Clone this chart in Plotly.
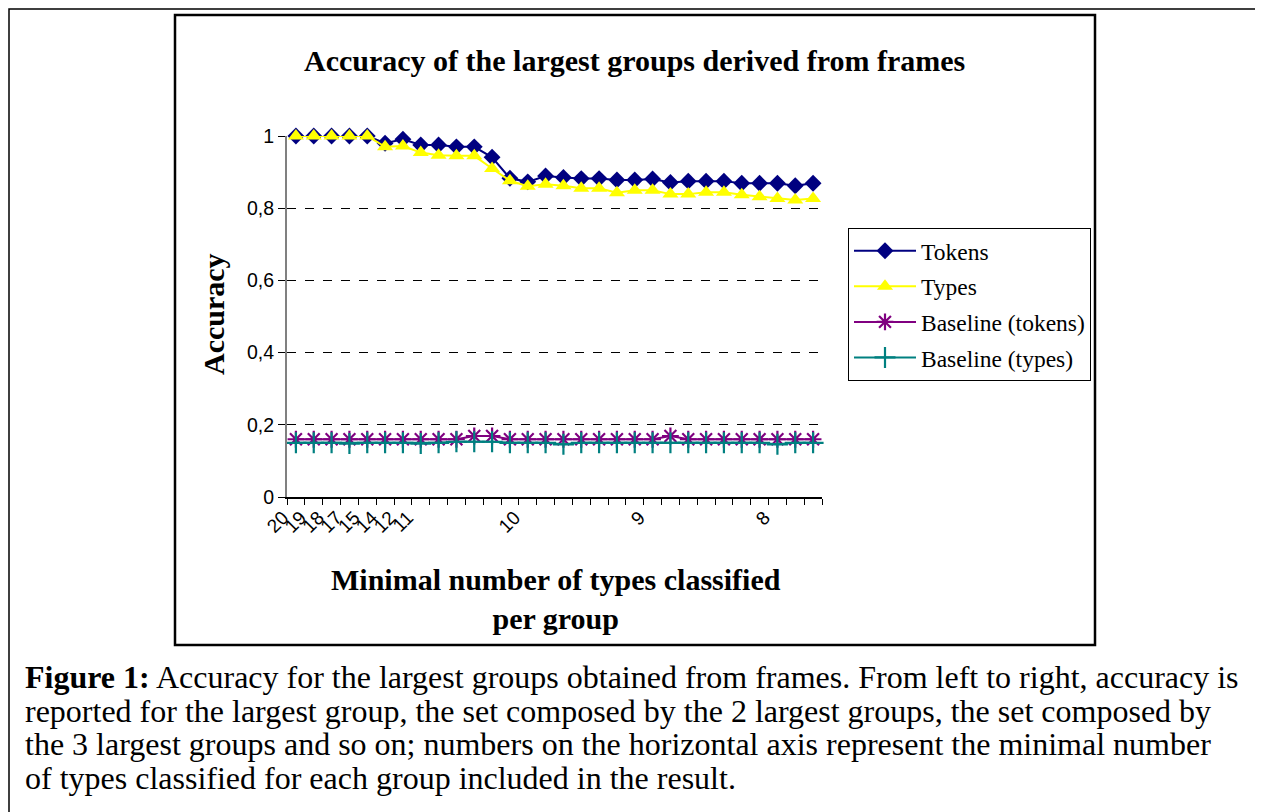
import plotly.graph_objects as go

# ---------------- data ----------------
x_labels = ["20", "19", "18", "17", "15", "14", "12", "11", "", "", "", "", "", "10",
            "", "", "", "", "", "", "9", "", "", "", "", "", "", "8", "", ""]

tokens = [1.0, 1.0, 1.0, 1.0, 1.0, 0.980, 0.991, 0.975, 0.975, 0.970, 0.970, 0.941,
          0.883, 0.873, 0.889, 0.885, 0.882, 0.882, 0.878, 0.878, 0.881, 0.871,
          0.875, 0.875, 0.875, 0.869, 0.869, 0.869, 0.862, 0.869]

types = [1.0, 1.0, 1.0, 1.0, 1.0, 0.970, 0.972, 0.954, 0.947, 0.945, 0.945, 0.910,
         0.876, 0.861, 0.866, 0.862, 0.855, 0.855, 0.843, 0.850, 0.850, 0.839,
         0.839, 0.844, 0.844, 0.837, 0.832, 0.827, 0.823, 0.827]

baseline_tokens = [0.160, 0.160, 0.160, 0.160, 0.160, 0.160, 0.160, 0.160, 0.160, 0.160,
                   0.169, 0.169, 0.160, 0.160, 0.160, 0.160, 0.160, 0.160, 0.160, 0.160,
                   0.160, 0.169, 0.160, 0.160, 0.160, 0.160, 0.160, 0.160, 0.160, 0.160]

baseline_types = [0.150, 0.150, 0.150, 0.148, 0.150, 0.150, 0.150, 0.148, 0.150, 0.153,
                  0.153, 0.153, 0.150, 0.150, 0.150, 0.146, 0.150, 0.150, 0.150, 0.150,
                  0.150, 0.150, 0.150, 0.150, 0.150, 0.150, 0.150, 0.146, 0.150, 0.150]

y_ticks = [0, 0.2, 0.4, 0.6, 0.8, 1.0]
y_ticktext = ["0", "0,2", "0,4", "0,6", "0,8", "1"]

series = [
    ("Tokens", tokens, "#000080", "diamond", 13),
    ("Types", types, "#FFFF00", "triangle-up", 14),
    ("Baseline (tokens)", baseline_tokens, "#800080", "asterisk-open", 14),
    ("Baseline (types)", baseline_types, "#008080", "cross-thin-open", 15),
]

# ---------------- layout geometry (reference pixels) ----------------
W, H = 1263, 812
OFF = 8                                # page body margin of the html page
PL, PR, PT, PB = 287, 822, 136, 497    # plot area in the reference picture
pw, ph = PR - PL, PB - PT


def px(x):
    return (x - PL) / pw


def py(y):
    return (PB - y) / ph


idx = list(range(len(x_labels)))

fig = go.Figure()
for i, (name, vals, color, sym, size) in enumerate(series):
    open_sym = sym.endswith("-open")
    fig.add_trace(go.Scatter(
        x=idx, y=vals, name=name, mode="lines+markers",
        legendgroup=f"g{i}",
        line=dict(color=color, width=2),
        marker=dict(symbol=sym, size=size, color=color,
                    line=dict(color=color, width=2.2 if open_sym else 0)),
        cliponaxis=False,
    ))

serif = "Liberation Serif, Times New Roman, serif"
sans = "Liberation Sans, Arial, sans-serif"

label_vals = [i for i, t in zip(idx, x_labels) if t]
label_text = [t for t in x_labels if t]

fig.update_layout(
    width=W, height=H, autosize=False,
    margin=dict(l=PL - OFF, r=W - (PR - OFF), t=PT - OFF, b=H - (PB - OFF), pad=0),
    paper_bgcolor="white", plot_bgcolor="white",
    showlegend=True,
    legend=dict(
        x=px(848), y=py(228), xanchor="left", yanchor="top",
        bordercolor="black", borderwidth=1, bgcolor="white",
        font=dict(family=serif, size=23.5, color="black"),
        tracegroupgap=2, itemwidth=62,
    ),
    xaxis=dict(
        range=[-0.5, len(x_labels) - 0.5],
        tickmode="array", tickvals=label_vals, ticktext=label_text,
        tickangle=-45, ticks="", showgrid=False, zeroline=False,
        showline=True, linecolor="black", linewidth=2,
        tickfont=dict(family=sans, size=19, color="black"),
        ticklabelshift=-13,
        minor=dict(tickmode="array",
                   tickvals=[i - 0.5 for i in range(len(x_labels) + 1)],
                   ticks="outside", ticklen=6, tickcolor="black", tickwidth=1,
                   showgrid=False),
    ),
    yaxis=dict(
        range=[0, 1], tickmode="array", tickvals=y_ticks, ticktext=y_ticktext,
        ticks="outside", ticklen=7, tickcolor="black", tickwidth=1,
        showline=True, linecolor="#808080", linewidth=2,
        showgrid=True, gridcolor="black", gridwidth=1, griddash="dash",
        zeroline=False,
        tickfont=dict(family=sans, size=19.5, color="black"),
    ),
)

# frames (outer page frame sits just inside the drawable area)
fig.add_shape(type="rect", xref="paper", yref="paper",
              x0=px(OFF + 1), x1=px(1259), y0=py(830), y1=py(OFF + 1),
              line=dict(color="black", width=1.5), layer="below")
fig.add_shape(type="rect", xref="paper", yref="paper",
              x0=px(175), x1=px(1095), y0=py(645), y1=py(15),
              line=dict(color="black", width=2.5), layer="below")

# titles
fig.add_annotation(text="<b>Accuracy of the largest groups derived from frames</b>",
                   xref="paper", yref="paper", x=px(634), y=py(60),
                   showarrow=False, xanchor="center", yanchor="middle",
                   font=dict(family=serif, size=30, color="black"))
fig.add_annotation(text="<b>Accuracy</b>", textangle=-90,
                   xref="paper", yref="paper", x=px(213), y=py(314),
                   showarrow=False, xanchor="center", yanchor="middle",
                   font=dict(family=serif, size=30, color="black"))
fig.add_annotation(text="<b>Minimal number of types classified</b><br><b>per group</b>",
                   xref="paper", yref="paper", x=px(556), y=py(599),
                   showarrow=False, xanchor="center", yanchor="middle",
                   font=dict(family=serif, size=30, color="black"))

caption = [
    "<b>Figure 1:</b> Accuracy for the largest groups obtained from frames. From left to right, accuracy is",
    "reported for the largest group, the set composed by the 2 largest groups, the set composed by",
    "the 3 largest groups and so on; numbers on the horizontal axis represent the minimal number",
    "of types classified for each group included in the result.",
]
for k, line in enumerate(caption):
    fig.add_annotation(text=line, xref="paper", yref="paper",
                       x=px(23), y=py(677 + 33.7 * k),
                       showarrow=False, xanchor="left", yanchor="middle",
                       font=dict(family=serif, size=32, color="black"))

fig.write_html("out.html")
